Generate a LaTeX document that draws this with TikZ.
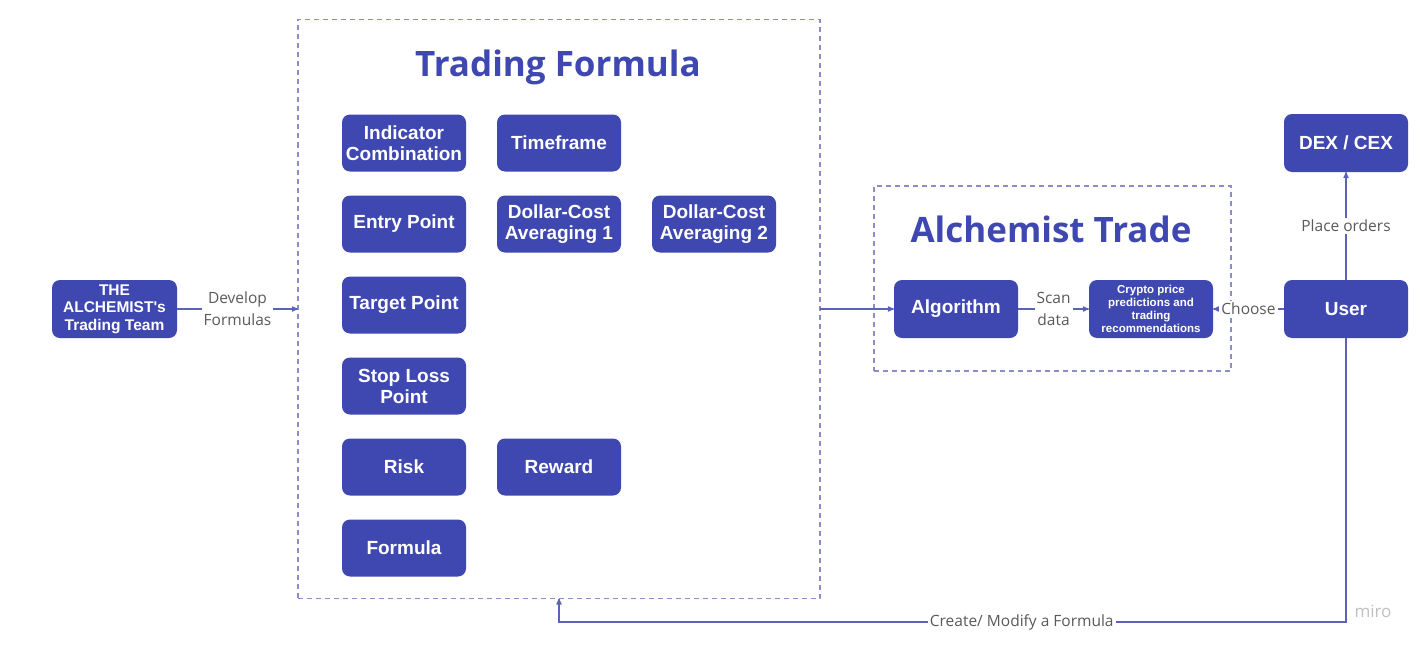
\documentclass[tikz,border=0pt]{standalone}
\usepackage{fontspec}
\setmainfont{Liberation Sans}
\newfontfamily\opensans{Open Sans}
\usetikzlibrary{arrows,positioning}
\definecolor{indigo}{HTML}{3F48B0}
\definecolor{wire}{HTML}{5C62BA}
\definecolor{frame}{HTML}{8A8EC8}
\definecolor{note}{HTML}{5A5A5A}

\begin{document}
\begin{tikzpicture}[x=1pt,y=-1pt,->,>=stealth',line width=1.2pt,draw=wire,
    node distance=24pt and 31pt,
    block/.style={rectangle,rounded corners=8pt,fill=indigo,text=white,align=center,outer sep=0pt,
      font=\bfseries\fontsize{19}{21}\selectfont,minimum width=124pt,minimum height=57pt,inner sep=1pt},
    group/.style={rectangle,draw=frame,line width=1.2pt,dash pattern=on 5pt off 4pt,outer sep=0pt},
    tag/.style={fill=white,text=note,align=center,inner sep=2pt,font=\opensans\fontsize{15.5}{22}\selectfont},
    heading/.style={text=indigo,font=\opensans\bfseries\fontsize{35}{40}\selectfont}]

  \useasboundingbox (0,0) rectangle (1423,645);

  % frames
  \node[group,minimum width=522pt,minimum height=579pt] (tf) at (559,309) {};
  \node[group,minimum width=357pt,minimum height=185pt] (at) at (1052.5,278.5) {};
  \node[heading] (tftitle) at (558,67) {Trading Formula};
  \node[heading] (attitle) at (1051,229) {Alchemist Trade};

  % trading formula parts
  \node[block] (ind) at (404,143) {Indicator\\Combination};
  \node[block] (entry) [below=of ind] {Entry Point};
  \node[block] (target) [below=of entry] {Target Point};
  \node[block] (stop) [below=of target] {Stop Loss\\Point};
  \node[block] (risk) [below=of stop] {Risk};
  \node[block] (formula) [below=of risk] {Formula};
  \node[block] (time) [right=of ind] {Timeframe};
  \node[block] (dca1) [right=of entry] {Dollar-Cost\\Averaging 1};
  \node[block] (dca2) [right=of dca1] {Dollar-Cost\\Averaging 2};
  \node[block] (reward) [right=of risk] {Reward};

  % outside
  \node[block,minimum width=125pt,minimum height=58pt,font=\bfseries\fontsize{15.5}{17.5}\selectfont] (team) at (114.5,309) {THE\\ALCHEMIST\textquotesingle s\\Trading Team};
  \node[block,minimum height=58pt] (algo) at (956,309) {Algorithm};
  \node[block,minimum height=58pt,font=\bfseries\fontsize{11.5}{13}\selectfont] (crypto) [right=71pt of algo] {Crypto price\\predictions and\\trading\\recommendations};
  \node[block,minimum height=58pt] (user) [right=71pt of crypto] {User};
  \node[block,minimum height=58pt] (dex) [above=108pt of user] {DEX / CEX};
  \node[text=black!25,font=\opensans\fontsize{17}{20}\selectfont] (miro) at (1373,611) {miro};

  \coordinate (back) at (559,622);

  \path
        (team.east) edge node[tag] {Develop\\Formulas} (tf.west)
        (tf.east) edge (algo)
        (algo) edge node[tag] {Scan\\data} (crypto)
        (user) edge node[tag] {Choose} (crypto)
               edge node[tag] {Place orders} (dex);

  \draw (user.south) |- node[tag,pos=0.706] {Create/ Modify a Formula} (back) -- (back |- tf.south);

\end{tikzpicture}
\end{document}
